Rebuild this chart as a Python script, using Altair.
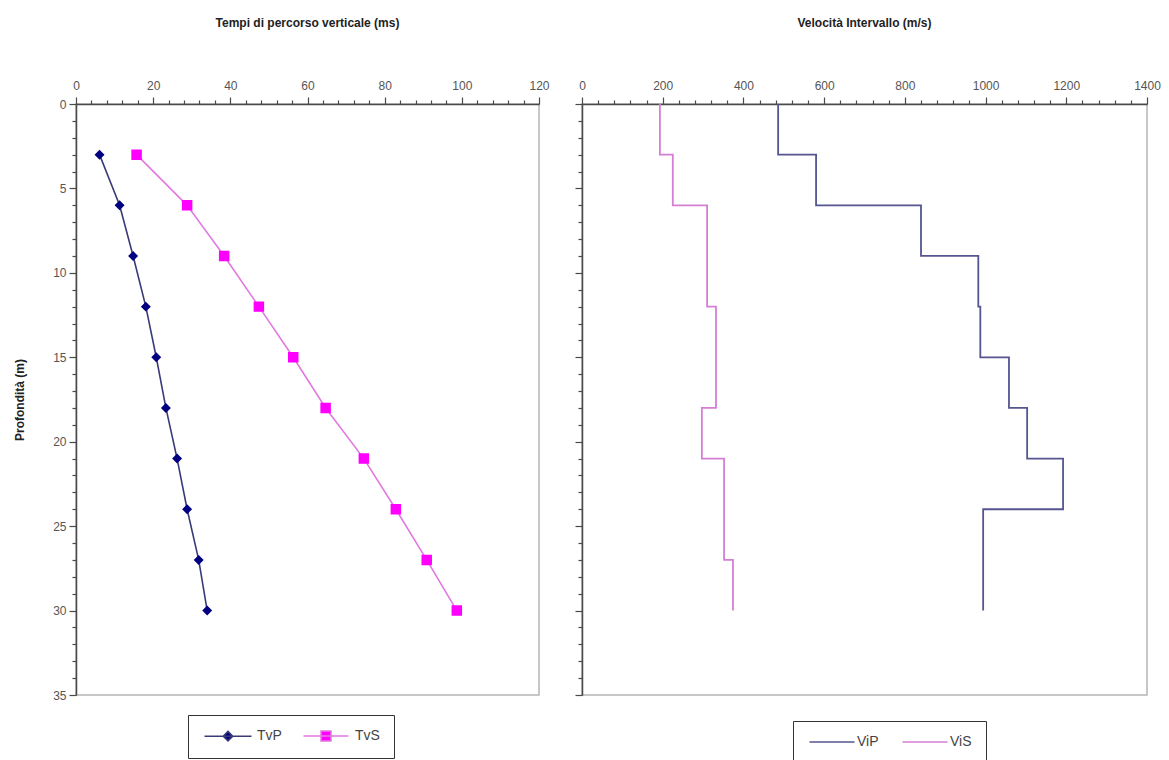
import altair as alt
import pandas as pd

# ---------------- data ----------------
depth_t = [3, 6, 9, 12, 15, 18, 21, 24, 27, 30]
tvp = [6.1, 11.3, 14.8, 18.1, 20.8, 23.3, 26.2, 28.8, 31.8, 34.0]
tvs = [15.7, 28.8, 38.4, 47.4, 56.3, 64.7, 74.6, 82.9, 90.9, 98.7]

vip_top = [0, 3, 6, 9, 12, 15, 18, 21, 24]
vip = [486, 580, 840, 982, 987, 1058, 1103, 1192, 994]
vis_top = [0, 3, 6, 12, 18, 21, 27]
vis = [193, 225, 310, 332, 297, 352, 374]
max_depth = 30

t_series = ["TvP", "TvS"]
v_series = ["ViP", "ViS"]

title_left = "Tempi di percorso verticale (ms)"
title_right = "Velocità Intervallo (m/s)"
y_title = "Profondità (m)"

# ---------------- tables ----------------
df_t = pd.DataFrame({
    "Profondita": depth_t + depth_t,
    "Tempo": tvp + tvs,
    "Serie": [t_series[0]] * len(tvp) + [t_series[1]] * len(tvs),
})

rows = []
for name, tops, vals in [(v_series[0], vip_top, vip), (v_series[1], vis_top, vis)]:
    for d, v in zip(tops, vals):
        rows.append({"Profondita": d, "Velocita": v, "Serie": name})
    rows.append({"Profondita": max_depth, "Velocita": vals[-1], "Serie": name})
df_v = pd.DataFrame(rows)

FONT = "Liberation Sans"
AX = "#4a4a4a"

y_scale = alt.Scale(domain=[0, 35], reverse=True, nice=False, zero=False)


def y_axis(show_labels):
    kw = dict(
        values=list(range(0, 36)),
        grid=False,
        tickSize={"condition": {"test": "datum.value % 5 === 0", "value": 7}, "value": 4},
        tickColor=AX, domainColor=AX, domainWidth=1.5, tickWidth=1.2,
    )
    if show_labels:
        kw.update(
            labelExpr="datum.value % 5 === 0 ? datum.label : ''",
            labelFont=FONT, labelFontSize=12, labelColor="#555",
            labelPadding=3, labelOverlap=False, labelFlush=False, labelBound=False,
            title=y_title, titleFont=FONT, titleFontSize=12, titleFontWeight="bold",
            titleColor="#222", titlePadding=26,
        )
    else:
        kw.update(labels=False, title=None)
    return alt.Axis(**kw)


def x_axis(maxv, minor, major):
    return alt.Axis(
        orient="top",
        values=list(range(0, maxv + 1, minor)),
        format="d",
        labelExpr=f"datum.value % {major} === 0 ? datum.label : ''",
        grid=False, title=None,
        tickSize={"condition": {"test": f"datum.value % {major} === 0", "value": 7}, "value": 4},
        tickColor=AX, domainColor=AX, domainWidth=1.5, tickWidth=1.2,
        labelFont=FONT, labelFontSize=12, labelColor="#555",
        labelPadding=5, labelOverlap=False, labelFlush=False, labelBound=False,
    )


# ---------------- left panel ----------------
t_line_colors = ["#3a3a78", "#e07ae0"]
t_marker_colors = ["#000080", "#ff00ff"]

# marker shapes: filled diamond / square; the horizontal stub is only stroked in the legend
shape_tvp = "M-4.7,0H4.7M0,-0.95L0.95,0L0,0.95L-0.95,0Z"
shape_tvs = "M-4.5,0H4.5M-1,-1H1V1H-1Z"

legend_t = alt.Legend(
    title=None, orient="none", direction="horizontal",
    legendX=112, legendY=611,
    symbolSize=100, symbolStrokeWidth=1.5, symbolOffset=19,
    labelOffset=22, columnPadding=18, padding=14,
    strokeColor="#333", fillColor="white",
    labelFont=FONT, labelFontSize=14, labelColor="#444",
)

base_t = alt.Chart(df_t)
x_t = alt.X("Tempo:Q", scale=alt.Scale(domain=[0, 120], nice=False), axis=x_axis(120, 4, 20))
y_t = alt.Y("Profondita:Q", scale=y_scale, axis=y_axis(True))

lines_t = base_t.mark_line(strokeWidth=1.6).encode(
    x=x_t, y=y_t,
    stroke=alt.Stroke("Serie:N", scale=alt.Scale(domain=t_series, range=t_line_colors), legend=legend_t),
    order=alt.Order("Profondita:Q"),
)
pts_t = base_t.mark_point(filled=True, opacity=1, size=110).encode(
    x=x_t, y=y_t,
    fill=alt.Fill("Serie:N", scale=alt.Scale(domain=t_series, range=t_marker_colors), legend=None),
    shape=alt.Shape("Serie:N", scale=alt.Scale(domain=t_series, range=[shape_tvp, shape_tvs]), legend=None),
)

left = alt.layer(lines_t, pts_t).properties(
    width=463, height=591,
    title=alt.Title(title_left, font=FONT, fontSize=12, fontWeight="bold", color="#222",
                    anchor="middle", offset=49),
)

# ---------------- right panel ----------------
v_line_colors = ["#55558f", "#d47fd4"]

legend_v = alt.Legend(
    title=None, orient="none", direction="horizontal",
    legendX=211, legendY=617,
    symbolType="M-4.5,0H4.5", symbolSize=100, symbolStrokeWidth=1.6, symbolOffset=18,
    labelOffset=18, columnPadding=20, padding=14,
    strokeColor="#333", fillColor="white",
    labelFont=FONT, labelFontSize=14, labelColor="#444",
)

lines_v = alt.Chart(df_v).mark_line(strokeWidth=1.8, interpolate="step-before").encode(
    x=alt.X("Velocita:Q", scale=alt.Scale(domain=[0, 1400], nice=False), axis=x_axis(1400, 40, 200)),
    y=alt.Y("Profondita:Q", scale=y_scale, axis=y_axis(False)),
    stroke=alt.Stroke("Serie:N", scale=alt.Scale(domain=v_series, range=v_line_colors), legend=legend_v),
    order=alt.Order("Profondita:Q"),
)

right = lines_v.properties(
    width=565, height=591,
    title=alt.Title(title_right, font=FONT, fontSize=12, fontWeight="bold", color="#222",
                    anchor="middle", offset=49),
)

chart = (
    alt.hconcat(left, right, spacing=23)
    .resolve_scale(stroke="independent", fill="independent", shape="independent")
    .configure_view(stroke="#b5b5b5", strokeWidth=1.5)
    .properties(padding={"left": 12, "top": 16, "right": 5, "bottom": 0}, background="white")
)

chart.save("out.html", embed_options={"renderer": "svg", "actions": False})
